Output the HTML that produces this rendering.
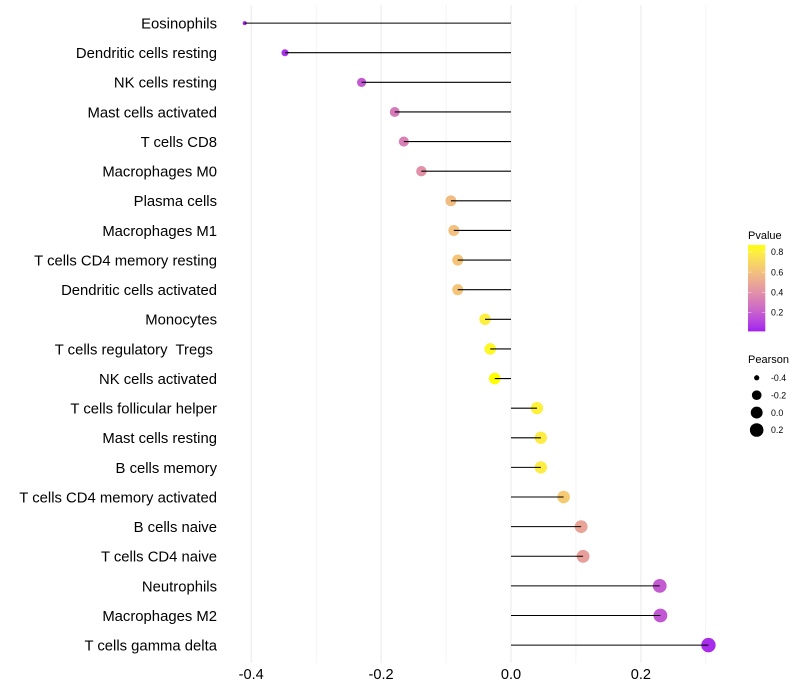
<!DOCTYPE html>
<html>
<head>
<meta charset="utf-8">
<style>
html,body{margin:0;padding:0;background:#fff;}
svg{display:block;}
text{font-family:"Liberation Sans",sans-serif;fill:#000;white-space:pre;}
</style>
</head>
<body>
<svg id="chart" width="800" height="700" viewBox="0 0 800 700" xmlns="http://www.w3.org/2000/svg" xml:space="preserve"></svg>
<script>
const categories = ["Eosinophils","Dendritic cells resting","NK cells resting","Mast cells activated","T cells CD8","Macrophages M0","Plasma cells","Macrophages M1","T cells CD4 memory resting","Dendritic cells activated","Monocytes","T cells regulatory  Tregs ","NK cells activated","T cells follicular helper","Mast cells resting","B cells memory","T cells CD4 memory activated","B cells naive","T cells CD4 naive","Neutrophils","Macrophages M2","T cells gamma delta"];
const pearsonValues = [-0.41,-0.348,-0.23,-0.179,-0.165,-0.138,-0.0925,-0.088,-0.082,-0.082,-0.04,-0.032,-0.025,0.04,0.046,0.046,0.081,0.108,0.111,0.229,0.23,0.304];
const pValues = [0.01,0.05,0.18,0.30,0.33,0.40,0.58,0.60,0.62,0.62,0.80,0.84,0.87,0.81,0.79,0.79,0.64,0.48,0.46,0.18,0.17,0.04];
const xTicks = [-0.4,-0.2,0,0.2];
const xMinorTicks = [-0.3,-0.1,0.1,0.3];
const pLegendTicks = [0.2,0.4,0.6,0.8];
const sizeLegendTicks = [-0.4,-0.2,0,0.2];

const svg = document.getElementById('chart');
const NS = 'http://www.w3.org/2000/svg';
function xScale(v){ return 511 + 649.5*v; }
function yScale(i){ return 23.1 + 29.62*i; }
const pMin = 0.01, pMax = 0.87;
const sMin = Math.min.apply(null, pearsonValues), sMax = Math.max.apply(null, pearsonValues);
function rScale(v){
  const t = Math.max(0, (v - sMin)/(sMax - sMin));
  return 2.0 + 5.2*Math.sqrt(t);
}
function toLab(rgb){
  const l = rgb.map(c => { c/=255; return c>0.04045 ? Math.pow((c+0.055)/1.055,2.4) : c/12.92; });
  const X=(0.4124*l[0]+0.3576*l[1]+0.1805*l[2])/0.95047, Y=0.2126*l[0]+0.7152*l[1]+0.0722*l[2], Z=(0.0193*l[0]+0.1192*l[1]+0.9505*l[2])/1.08883;
  const f = t => t>0.008856 ? Math.cbrt(t) : 7.787*t+16/116;
  return [116*f(Y)-16, 500*(f(X)-f(Y)), 200*(f(Y)-f(Z))];
}
function fromLab(lab){
  const fy=(lab[0]+16)/116, fx=fy+lab[1]/500, fz=fy-lab[2]/200;
  const g = t => t*t*t>0.008856 ? t*t*t : (t-16/116)/7.787;
  const X=g(fx)*0.95047, Y=g(fy), Z=g(fz)*1.08883;
  const l=[3.2406*X-1.5372*Y-0.4986*Z, -0.9689*X+1.8758*Y+0.0415*Z, 0.0557*X-0.204*Y+1.057*Z];
  return l.map(c => { c = c>0.0031308 ? 1.055*Math.pow(c,1/2.4)-0.055 : 12.92*c; return Math.round(255*Math.min(1,Math.max(0,c))); });
}
const labLow = toLab([160,32,240]), labHigh = toLab([255,255,0]);
function colorScale(p){
  const t = Math.min(1, Math.max(0, (p-pMin)/(pMax-pMin)));
  const c = fromLab(labLow.map((a,i)=>a+(labHigh[i]-a)*t));
  return 'rgb('+c.join(',')+')';
}
function mk(tag, attrs, parent){
  const e = document.createElementNS(NS, tag);
  for (const k in attrs) e.setAttribute(k, attrs[k]);
  (parent||svg).appendChild(e);
  return e;
}

// Gradient definition
const defs = mk('defs', {});
const grad = mk('linearGradient', {id:'pGrad', x1:0, y1:1, x2:0, y2:0}, defs);
for (let i=0;i<=20;i++){
  mk('stop', {offset:(i/20), 'stop-color':colorScale(pMin+(pMax-pMin)*i/20)}, grad);
}

// Gridlines
xTicks.forEach(function(v){
  const g = mk('line', {x1:xScale(v), x2:xScale(v), y1:5, y2:663, stroke:'#ebebeb', 'stroke-width':1.07});
  
  
});
xMinorTicks.forEach(function(v){
  const g = mk('line', {x1:xScale(v), x2:xScale(v), y1:5, y2:663, stroke:'#ebebeb', 'stroke-width':0.53});
  
  
});

// Points, then stems
categories.forEach(function(name,i){
  const pt = mk('circle', {cx:xScale(pearsonValues[i]), cy:yScale(i), r:rScale(pearsonValues[i]), fill:colorScale(pValues[i])});
  
  
});
categories.forEach(function(name,i){
  const st = mk('line', {x1:xScale(0), x2:xScale(pearsonValues[i]), y1:yScale(i), y2:yScale(i), stroke:'#000', 'stroke-width':1.07});
  
  
  const lb = mk('text', {x:217, y:yScale(i)+5.4, 'text-anchor':'end', 'font-size':'14.85px'});
  lb.textContent = name;
  
  
});

// X tick labels
xTicks.forEach(function(v){
  const t = mk('text', {x:xScale(v), y:679, 'text-anchor':'middle', 'font-size':'14.6px'});
  t.textContent = v.toFixed(1);
  
  
});

// Colour legend
const pTitle = mk('text', {x:748, y:239, 'font-size':'11px'});
pTitle.textContent = 'Pvalue';


const bar = mk('rect', {x:748, y:245, width:17.3, height:86.4, fill:'url(#pGrad)'});


function legendY(p){ return 331.4 - (p-pMin)/(pMax-pMin)*86.4; }
pLegendTicks.forEach(function(p){
  const y = legendY(p);
  const a = mk('line', {x1:748, x2:751.5, y1:y, y2:y, stroke:'#fff', 'stroke-width':0.5, 'stroke-opacity':0.8});
  
  
  const b = mk('line', {x1:761.8, x2:765.3, y1:y, y2:y, stroke:'#fff', 'stroke-width':0.5, 'stroke-opacity':0.8});
  
  
  const t = mk('text', {x:771, y:y+3.2, 'font-size':'8.8px'});
  t.textContent = p.toFixed(1);
  
  
});

// Size legend
const sTitle = mk('text', {x:748, y:363, 'font-size':'11px'});
sTitle.textContent = 'Pearson';


sizeLegendTicks.forEach(function(v,i){
  const y = 377.8 + 17.4*i;
  const c = mk('circle', {cx:756.7, cy:y, r:rScale(v), fill:'#000'});
  
  
  const t = mk('text', {x:771, y:y+3.2, 'font-size':'8.8px'});
  t.textContent = v.toFixed(1);
  
  
});
</script>
</body>
</html>
